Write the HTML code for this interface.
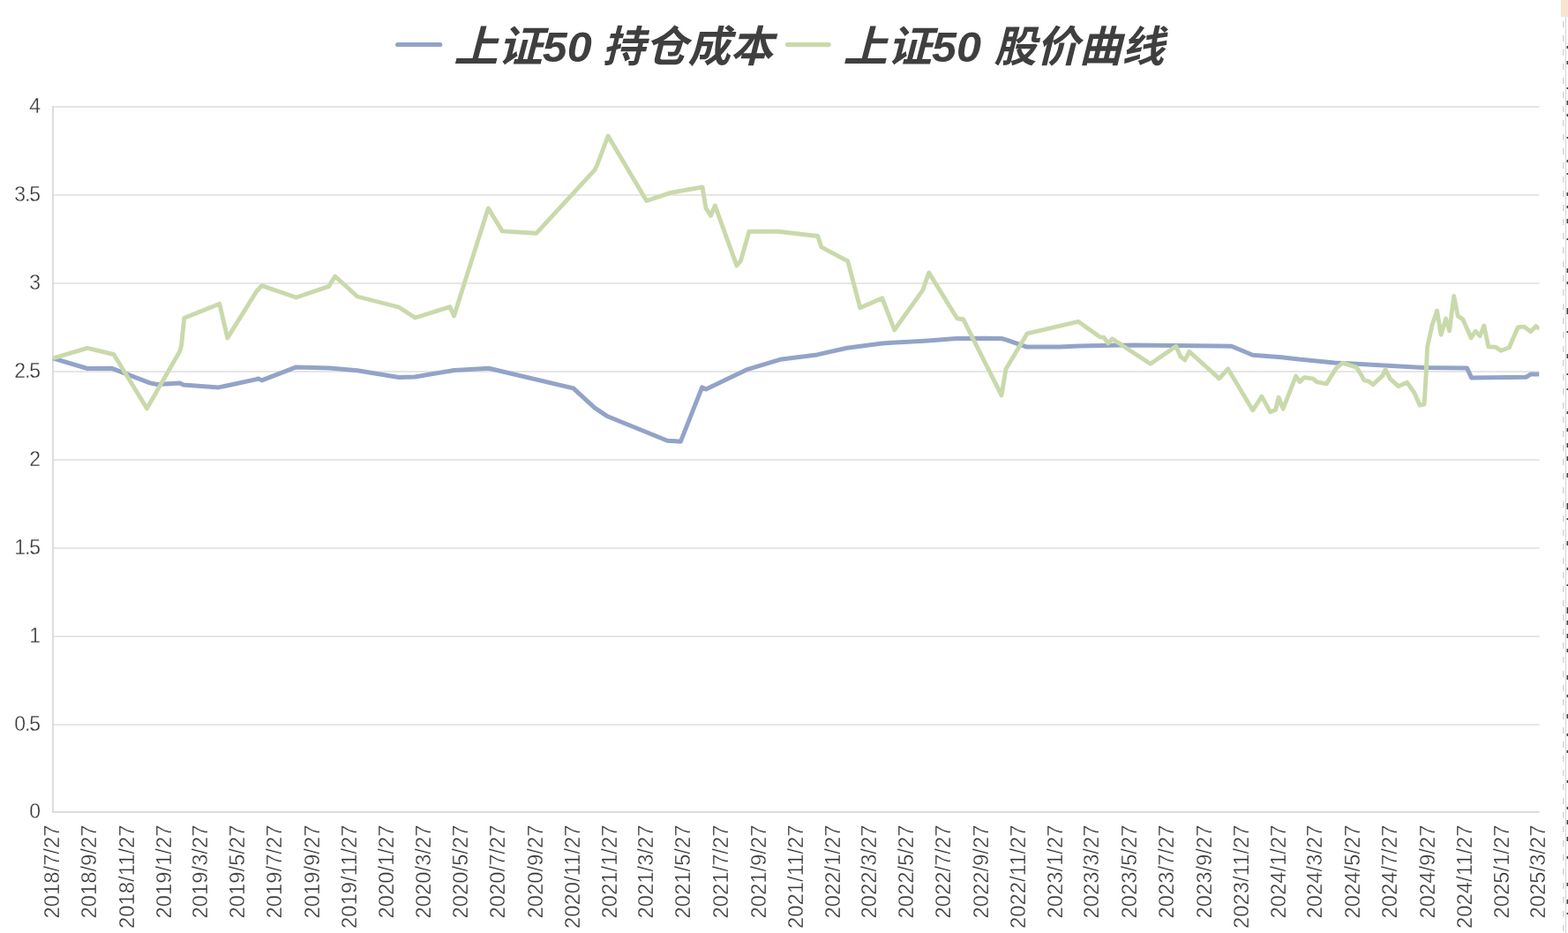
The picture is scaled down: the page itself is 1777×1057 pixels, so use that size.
<!DOCTYPE html>
<html lang="zh"><head><meta charset="utf-8"><title>上证50 持仓成本 / 股价曲线</title>
<style>
html,body{margin:0;padding:0;background:#fff;}
body{width:1777px;height:1057px;overflow:hidden;font-family:"Liberation Sans",sans-serif;}
svg{display:block}
</style></head><body>
<svg width="1777" height="1057" viewBox="0 0 1777 1057">
<rect width="1777" height="1057" fill="#fff"/>
<defs><filter id="nf" x="0" y="0" width="100%" height="100%" filterUnits="userSpaceOnUse" color-interpolation-filters="sRGB"><feOffset dx="0" dy="0"/></filter></defs>
<line x1="59.0" x2="1744.5" y1="920.0" y2="920.0" stroke="#dddddd" stroke-width="2.0"/>
<line x1="59.0" x2="1744.5" y1="821.0" y2="821.0" stroke="#e6e6e6" stroke-width="2.0"/>
<line x1="59.0" x2="1744.5" y1="721.0" y2="721.0" stroke="#e6e6e6" stroke-width="2.0"/>
<line x1="59.0" x2="1744.5" y1="621.0" y2="621.0" stroke="#e6e6e6" stroke-width="2.0"/>
<line x1="59.0" x2="1744.5" y1="521.0" y2="521.0" stroke="#e6e6e6" stroke-width="2.0"/>
<line x1="59.0" x2="1744.5" y1="421.0" y2="421.0" stroke="#e6e6e6" stroke-width="2.0"/>
<line x1="59.0" x2="1744.5" y1="321.0" y2="321.0" stroke="#e6e6e6" stroke-width="2.0"/>
<line x1="59.0" x2="1744.5" y1="221.0" y2="221.0" stroke="#e6e6e6" stroke-width="2.0"/>
<line x1="59.0" x2="1744.5" y1="121.0" y2="121.0" stroke="#e6e6e6" stroke-width="2.0"/>
<line x1="60.0" x2="60.0" y1="120" y2="921" stroke="#dcdcdc" stroke-width="2"/>
<clipPath id="cp"><rect x="57.0" y="100" width="1687.5" height="840"/></clipPath>
<g clip-path="url(#cp)" fill="none" stroke-linejoin="round" stroke-linecap="butt">
<polyline stroke="#93a3c8" stroke-width="5" points="60.0,405.9 99.0,417.5 126.9,417.3 169.9,433.9 177.9,435.5 203.8,433.9 207.8,435.9 247.8,438.9 289.8,429.9 292.8,428.9 296.7,430.9 335.7,415.9 373.7,416.9 405.0,419.7 452.0,427.5 470.0,427.0 514.9,419.5 553.9,417.3 649.8,439.9 673.7,461.8 688.7,471.8 756.3,499.2 771.4,500.2 795.6,438.9 800.0,440.9 845.9,418.9 883.9,407.3 925.8,401.9 959.8,394.3 999.8,388.9 1051.7,385.9 1083.7,383.5 1115.0,383.2 1135.0,383.5 1140.0,384.9 1163.0,392.9 1200.9,392.9 1222.9,391.9 1284.8,390.9 1380.7,391.9 1395.7,392.3 1419.7,402.3 1452.1,404.7 1472.1,407.1 1512.3,410.9 1613.0,416.4 1662.5,416.9 1667.7,428.1 1729.4,427.3 1734.4,424.1 1744.5,424.1"/>
<polyline stroke="#cad9ab" stroke-width="4.9" points="60.0,405.9 99.0,394.3 128.9,401.5 166.5,462.8 203.8,397.9 205.5,392.0 208.8,360.3 248.8,344.3 257.8,382.9 290.8,330.0 296.7,323.6 335.7,337.0 372.7,324.4 379.7,313.0 405.0,336.0 452.0,348.0 470.5,360.0 509.9,347.6 514.5,358.0 553.3,235.9 569.2,261.9 607.8,264.3 673.7,192.9 676.7,187.0 689.1,154.0 732.7,227.5 760.0,218.4 796.0,212.0 800.0,235.9 805.6,244.3 810.3,232.9 834.9,300.9 839.5,295.5 848.9,262.3 881.9,262.3 926.8,267.5 930.8,279.9 960.8,295.9 974.8,348.8 999.8,337.8 1013.7,373.8 1045.7,328.9 1052.7,308.9 1084.7,360.8 1091.7,361.8 1135.0,447.9 1140.0,417.9 1164.0,377.9 1221.9,364.3 1246.9,381.9 1250.9,382.3 1255.9,388.9 1260.5,383.9 1303.8,412.3 1332.8,392.3 1337.8,403.9 1342.8,407.9 1347.8,398.3 1381.7,428.9 1391.7,417.9 1419.7,464.8 1430.0,449.2 1439.5,466.7 1445.6,464.2 1449.1,450.2 1454.1,463.2 1468.6,426.1 1473.1,432.6 1478.2,427.6 1488.2,429.1 1492.2,432.6 1503.2,434.9 1514.3,417.1 1521.8,411.1 1537.3,416.1 1542.3,424.1 1545.8,430.6 1551.4,432.1 1555.9,435.6 1566.4,426.1 1570.2,418.6 1575.4,429.1 1585.0,437.6 1594.5,433.1 1603.0,445.2 1609.1,459.2 1614.1,458.2 1616.1,425.1 1617.6,393.0 1623.1,368.1 1628.6,352.1 1633.1,379.2 1638.6,361.1 1642.6,374.7 1647.7,335.5 1652.2,358.1 1657.7,361.6 1667.2,382.7 1672.2,375.2 1677.2,380.7 1681.8,369.1 1686.8,392.7 1695.3,393.2 1700.8,397.2 1710.3,393.7 1720.4,370.6 1727.4,370.1 1734.9,375.7 1740.4,369.6 1744.5,372.6"/>
</g>
<g font-family="Liberation Sans, sans-serif" font-size="23" fill="#383838" stroke="#fff" stroke-width="0.3" text-anchor="end" filter="url(#nf)">
<text x="46" y="926.7">0</text>
<text x="46" y="827.7">0<tspan dx="-1.1">.</tspan><tspan dx="-1.1">5</tspan></text>
<text x="46" y="727.7">1</text>
<text x="46" y="627.7">1<tspan dx="-1.1">.</tspan><tspan dx="-1.1">5</tspan></text>
<text x="46" y="527.7">2</text>
<text x="46" y="427.7">2<tspan dx="-1.1">.</tspan><tspan dx="-1.1">5</tspan></text>
<text x="46" y="327.7">3</text>
<text x="46" y="227.7">3<tspan dx="-1.1">.</tspan><tspan dx="-1.1">5</tspan></text>
<text x="46" y="127.7">4</text>
</g>
<g font-family="Liberation Sans, sans-serif" font-size="23.5" fill="#383838" stroke="#fff" stroke-width="0.3" letter-spacing="0.15" text-anchor="end" filter="url(#nf)">
<text transform="translate(66.5,934.5) rotate(-90)">2018/7/27</text>
<text transform="translate(109.3,934.5) rotate(-90)">2018/9/27</text>
<text transform="translate(151.5,934.5) rotate(-90)">2018/11/27</text>
<text transform="translate(193.7,934.5) rotate(-90)">2019/1/27</text>
<text transform="translate(234.6,934.5) rotate(-90)">2019/3/27</text>
<text transform="translate(276.8,934.5) rotate(-90)">2019/5/27</text>
<text transform="translate(319.0,934.5) rotate(-90)">2019/7/27</text>
<text transform="translate(361.8,934.5) rotate(-90)">2019/9/27</text>
<text transform="translate(404.0,934.5) rotate(-90)">2019/11/27</text>
<text transform="translate(446.2,934.5) rotate(-90)">2020/1/27</text>
<text transform="translate(487.7,934.5) rotate(-90)">2020/3/27</text>
<text transform="translate(529.9,934.5) rotate(-90)">2020/5/27</text>
<text transform="translate(572.1,934.5) rotate(-90)">2020/7/27</text>
<text transform="translate(615.0,934.5) rotate(-90)">2020/9/27</text>
<text transform="translate(657.2,934.5) rotate(-90)">2020/11/27</text>
<text transform="translate(699.4,934.5) rotate(-90)">2021/1/27</text>
<text transform="translate(740.2,934.5) rotate(-90)">2021/3/27</text>
<text transform="translate(782.4,934.5) rotate(-90)">2021/5/27</text>
<text transform="translate(824.6,934.5) rotate(-90)">2021/7/27</text>
<text transform="translate(867.5,934.5) rotate(-90)">2021/9/27</text>
<text transform="translate(909.7,934.5) rotate(-90)">2021/11/27</text>
<text transform="translate(951.9,934.5) rotate(-90)">2022/1/27</text>
<text transform="translate(992.8,934.5) rotate(-90)">2022/3/27</text>
<text transform="translate(1035.0,934.5) rotate(-90)">2022/5/27</text>
<text transform="translate(1077.2,934.5) rotate(-90)">2022/7/27</text>
<text transform="translate(1120.0,934.5) rotate(-90)">2022/9/27</text>
<text transform="translate(1162.2,934.5) rotate(-90)">2022/11/27</text>
<text transform="translate(1204.4,934.5) rotate(-90)">2023/1/27</text>
<text transform="translate(1245.3,934.5) rotate(-90)">2023/3/27</text>
<text transform="translate(1287.5,934.5) rotate(-90)">2023/5/27</text>
<text transform="translate(1329.7,934.5) rotate(-90)">2023/7/27</text>
<text transform="translate(1372.5,934.5) rotate(-90)">2023/9/27</text>
<text transform="translate(1414.7,934.5) rotate(-90)">2023/11/27</text>
<text transform="translate(1456.9,934.5) rotate(-90)">2024/1/27</text>
<text transform="translate(1498.4,934.5) rotate(-90)">2024/3/27</text>
<text transform="translate(1540.6,934.5) rotate(-90)">2024/5/27</text>
<text transform="translate(1582.8,934.5) rotate(-90)">2024/7/27</text>
<text transform="translate(1625.7,934.5) rotate(-90)">2024/9/27</text>
<text transform="translate(1667.9,934.5) rotate(-90)">2024/11/27</text>
<text transform="translate(1710.1,934.5) rotate(-90)">2025/1/27</text>
<text transform="translate(1751.0,934.5) rotate(-90)">2025/3/27</text>
</g>
<g>
<rect x="1769" y="0" width="8" height="19" fill="#f9e3d1"/>
<line x1="1774.5" x2="1774.5" y1="19" y2="1057" stroke="#cfcfcf" stroke-width="0.9"/>
<line x1="1771.8" x2="1771.8" y1="24" y2="1057" stroke="#d3d6de" stroke-width="1.6" stroke-dasharray="7 9"/>
<rect x="1775.6" y="52" width="1.6" height="3" fill="#3a3a44"/>
<rect x="1775.6" y="69" width="1.6" height="4" fill="#3a3a44"/>
<rect x="1775.6" y="99" width="1.6" height="2" fill="#3a3a44"/>
<rect x="1775.6" y="114" width="1.6" height="5" fill="#3a3a44"/>
<rect x="1775.6" y="129" width="1.6" height="3" fill="#3a3a44"/>
<rect x="1775.6" y="155" width="1.6" height="2" fill="#3a3a44"/>
<rect x="1775.6" y="181" width="1.6" height="3" fill="#3a3a44"/>
<rect x="1775.6" y="196" width="1.6" height="2" fill="#3a3a44"/>
<rect x="1775.6" y="218" width="1.6" height="4" fill="#3a3a44"/>
<rect x="1775.6" y="233" width="1.6" height="3" fill="#3a3a44"/>
<rect x="1775.6" y="248" width="1.6" height="5" fill="#3a3a44"/>
<rect x="1775.6" y="270" width="1.6" height="2" fill="#3a3a44"/>
<rect x="1775.6" y="304" width="1.6" height="5" fill="#3a3a44"/>
<rect x="1775.6" y="319" width="1.6" height="3" fill="#3a3a44"/>
<rect x="1775.6" y="349" width="1.6" height="7" fill="#3a3a44"/>
<rect x="1775.6" y="375" width="1.6" height="2" fill="#3a3a44"/>
<rect x="1775.6" y="401" width="1.6" height="5" fill="#3a3a44"/>
<rect x="1775.6" y="423" width="1.6" height="2" fill="#3a3a44"/>
<rect x="1775.6" y="440" width="1.6" height="2" fill="#3a3a44"/>
<rect x="1775.6" y="466" width="1.6" height="3" fill="#3a3a44"/>
<rect x="1775.6" y="485" width="1.6" height="4" fill="#3a3a44"/>
<rect x="1775.6" y="502" width="1.6" height="5" fill="#3a3a44"/>
<rect x="1775.6" y="517" width="1.6" height="5" fill="#3a3a44"/>
<rect x="1775.6" y="536" width="1.6" height="5" fill="#3a3a44"/>
<rect x="1775.6" y="570" width="1.6" height="7" fill="#3a3a44"/>
<rect x="1775.6" y="587" width="1.6" height="2" fill="#3a3a44"/>
<rect x="1775.6" y="613" width="1.6" height="5" fill="#3a3a44"/>
<rect x="1775.6" y="643" width="1.6" height="3" fill="#3a3a44"/>
<rect x="1775.6" y="662" width="1.6" height="2" fill="#3a3a44"/>
<rect x="1775.6" y="688" width="1.6" height="7" fill="#3a3a44"/>
<rect x="1775.6" y="703" width="1.6" height="5" fill="#3a3a44"/>
<rect x="1775.6" y="718" width="1.6" height="5" fill="#3a3a44"/>
<rect x="1775.6" y="735" width="1.6" height="4" fill="#3a3a44"/>
<rect x="1775.6" y="765" width="1.6" height="5" fill="#3a3a44"/>
<rect x="1775.6" y="787" width="1.6" height="3" fill="#3a3a44"/>
<rect x="1775.6" y="809" width="1.6" height="5" fill="#3a3a44"/>
<rect x="1775.6" y="831" width="1.6" height="3" fill="#3a3a44"/>
<rect x="1775.6" y="850" width="1.6" height="3" fill="#3a3a44"/>
<rect x="1775.6" y="884" width="1.6" height="3" fill="#3a3a44"/>
<rect x="1775.6" y="914" width="1.6" height="3" fill="#3a3a44"/>
<rect x="1775.6" y="929" width="1.6" height="5" fill="#3a3a44"/>
<rect x="1775.6" y="948" width="1.6" height="5" fill="#3a3a44"/>
<rect x="1775.6" y="970" width="1.6" height="3" fill="#3a3a44"/>
<rect x="1775.6" y="1000" width="1.6" height="4" fill="#3a3a44"/>
<rect x="1775.6" y="1019" width="1.6" height="5" fill="#3a3a44"/>
<rect x="1775.6" y="1034" width="1.6" height="2" fill="#3a3a44"/>
</g>
<line x1="450.7" x2="498.7" y1="50.5" y2="50.5" stroke="#93a3c8" stroke-width="5.2" stroke-linecap="round"/>
<line x1="892.6" x2="939.2" y1="50.6" y2="50.6" stroke="#cad9ab" stroke-width="5.2" stroke-linecap="round"/>
<g aria-label="上证50 持仓成本" font-family="Liberation Sans, Noto Sans CJK SC, sans-serif" font-size="48.5" font-weight="bold" font-style="italic" fill="#3f3f3f"><text x="514.3" y="70.35" textLength="156.5" lengthAdjust="spacingAndGlyphs">上证50</text><text x="682.6" y="70.35" textLength="193.6" lengthAdjust="spacingAndGlyphs">持仓成本</text></g>
<g aria-label="上证50 股价曲线" font-family="Liberation Sans, Noto Sans CJK SC, sans-serif" font-size="48.5" font-weight="bold" font-style="italic" fill="#3f3f3f"><text x="955.4" y="70.35" textLength="156.5" lengthAdjust="spacingAndGlyphs">上证50</text><text x="1126.6" y="70.35" textLength="192.8" lengthAdjust="spacingAndGlyphs">股价曲线</text></g>
</svg>
</body></html>
